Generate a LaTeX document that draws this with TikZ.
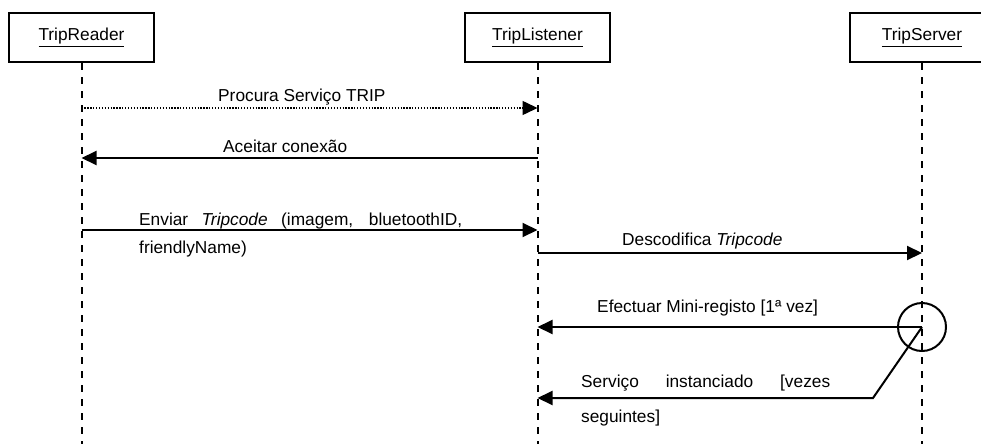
\documentclass[tikz,border=0pt]{standalone}
\usepackage{fontspec}
\setmainfont{Liberation Sans}
\usetikzlibrary{arrows.meta}
\begin{document}
\begin{tikzpicture}[x=1pt,y=-1pt,
  obj/.style={draw,line width=2pt,minimum width=145pt,minimum height=49pt,inner sep=0pt,font=\fontsize{17.3}{20}\selectfont},
  life/.style={line width=2pt,dash pattern=on 7pt off 7pt},
  msg/.style={line width=2pt,-{Triangle[length=15pt,width=14pt]}},
  dotmsg/.style={line width=1.5pt,dash pattern=on 1.3pt off 1.6pt,-{Triangle[length=15pt,width=14pt]}},
  lbl/.style={anchor=base west,inner sep=0pt,font=\fontsize{17.3}{20}\selectfont}]
\useasboundingbox (0,0) rectangle (981,444);
\clip (0,0) rectangle (981,444);
% objects
\node[obj] (reader) at (81.5,37.5) {\underline{TripReader}};
\node[obj] (listener) at (537.5,37.5) {\underline{TripListener}};
\node[obj] (server) at (922,37.5) {\underline{TripServer}};
% lifeline ends
\coordinate (readerEnd) at (81.5,444);
\coordinate (listenerEnd) at (537.5,444);
\coordinate (serverEnd) at (922,444);
\draw[life] (reader.south) -- (readerEnd);
\draw[life] (listener.south) -- (listenerEnd);
\draw[life] (server.south) -- (serverEnd);
% message endpoints
\coordinate (r1) at (81.5,108);   \coordinate (l1) at (537.5,108);
\coordinate (r2) at (81.5,158);   \coordinate (l2) at (537.5,158);
\coordinate (r3) at (81.5,230);   \coordinate (l3) at (537.5,230);
\coordinate (l4) at (537.5,253);  \coordinate (s4) at (922,253);
\coordinate (l5) at (537.5,327);  \coordinate (s5) at (922,327);
\coordinate (l6) at (537.5,398);  \coordinate (k6) at (873,398);
% messages
\draw[dotmsg] (r1) -- (l1);
\node[lbl] (t1) at (218,101) {Procura Serviço TRIP};
\draw[msg] (l2) -- (r2);
\node[lbl] (t2) at (223,152) {Aceitar conexão};
\draw[msg] (r3) -- (l3);
\node[lbl] (t3a) at (139,225) {\makebox[323pt][s]{Enviar \textit{Tripcode} (imagem, bluetoothID,}};
\node[lbl] (t3b) at (139,253) {friendlyName)};
\draw[msg] (l4) -- (s4);
\node[lbl] (t4) at (622,245) {Descodifica \textit{Tripcode}};
\node[draw,circle,line width=2pt,minimum size=48pt,inner sep=0pt] (circ) at (s5) {};
\draw[msg] (s5) -- (l5);
\node[lbl] (t5) at (597,312) {Efectuar Mini-registo [1ª vez]};
\draw[msg] (s5) -- (k6) -- (l6);
\node[lbl] (t6a) at (581,387) {\makebox[249pt][s]{Serviço instanciado [vezes}};
\node[lbl] (t6b) at (581,422) {seguintes]};
\end{tikzpicture}
\end{document}
